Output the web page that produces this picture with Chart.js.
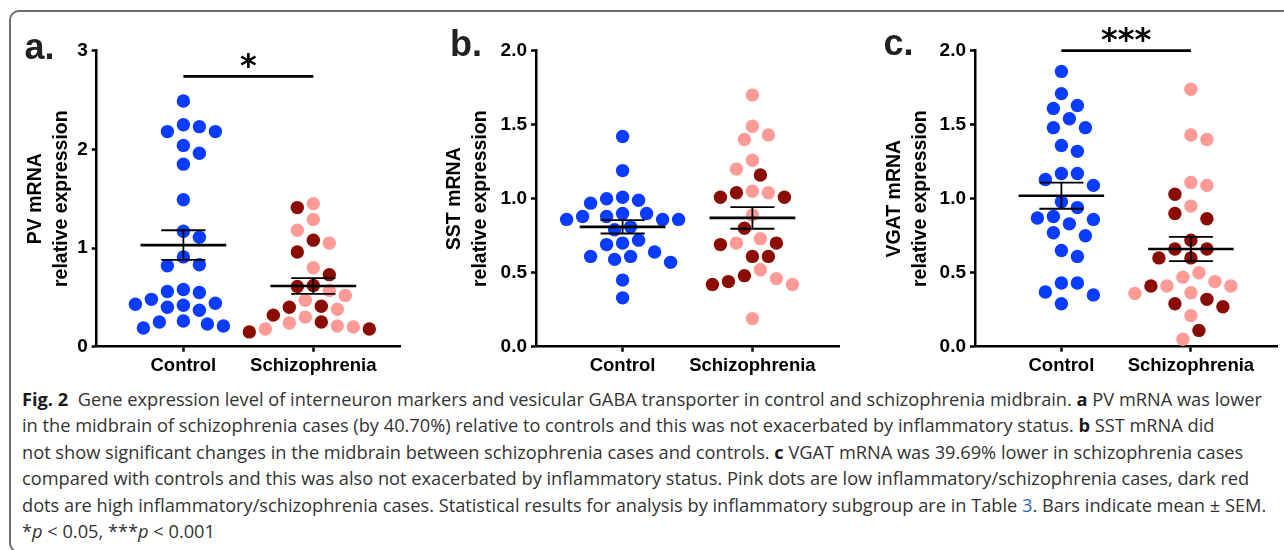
<!DOCTYPE html>
<html>
<head>
<meta charset="utf-8">
<script src="https://cdn.jsdelivr.net/npm/chart.js@4.4.0/dist/chart.umd.min.js"></script>
<style>
html, body { margin: 0; padding: 0; background: #fff; }
body { width: 1284px; height: 550px; position: relative; overflow: hidden; }
#frame { position: absolute; left: 9px; top: 9.5px; width: 1320px; height: 539px; border: 2px solid #6e6e6e; border-radius: 10px; }
canvas { position: absolute; top: 0; }
.tag { position: absolute; font: bold 36px "Liberation Sans", Arial, sans-serif; line-height: 36px; color: #222; }
#caption { position: absolute; left: 22px; top: 385.5px; font-family: "Open Sans", sans-serif; font-size: 17.5px; line-height: 26.6px; color: #333; white-space: nowrap; transform-origin: 0 0; }
#caption .ln { display: table; }
#caption b { color: #1a1a1a; }
.lnk { color: #2b66c0; }
</style>
</head>
<body>
<div id="frame"></div>
<canvas id="pv" width="430" height="380" style="left:0"></canvas>
<canvas id="sst" width="430" height="380" style="left:430px"></canvas>
<canvas id="vgat" width="424" height="380" style="left:860px"></canvas>
<div class="tag" style="left:24.5px;top:29px">a.</div>
<div class="tag" style="left:450px;top:26px">b.</div>
<div class="tag" style="left:883.5px;top:24.5px">c.</div>
<div id="caption">
<div class="ln"><b>Fig. 2</b>&nbsp; Gene expression level of interneuron markers and vesicular GABA transporter in control and schizophrenia midbrain. <b>a</b> PV mRNA was lower</div>
<div class="ln">in the midbrain of schizophrenia cases (by 40.70%) relative to controls and this was not exacerbated by inflammatory status. <b>b</b> SST mRNA did</div>
<div class="ln">not show significant changes in the midbrain between schizophrenia cases and controls. <b>c</b> VGAT mRNA was 39.69% lower in schizophrenia cases</div>
<div class="ln">compared with controls and this was also not exacerbated by inflammatory status. Pink dots are low inflammatory/schizophrenia cases, dark red</div>
<div class="ln">dots are high inflammatory/schizophrenia cases. Statistical results for analysis by inflammatory subgroup are in Table <span class="lnk">3</span>. Bars indicate mean ± SEM.</div>
<div class="ln">*<i>p</i> &lt; 0.05, ***<i>p</i> &lt; 0.001</div>
</div>
<script>
// values
const categories = ["Control", "Schizophrenia"];

const pvControl = [2.49, 2.18, 2.18, 2.23, 2.25, 2.04, 1.96, 1.85, 1.49, 1.17, 1.11, 0.91, 0.83, 0.82,
    0.55, 0.58, 0.56, 0.48, 0.40, 0.43, 0.44, 0.42, 0.37, 0.21, 0.23, 0.26, 0.19, 0.25];
const pvSczLow = [1.45, 1.29, 1.18, 1.05, 0.80, 0.52, 0.57, 0.47, 0.38, 0.30, 0.20, 0.24, 0.21, 0.18];
const pvSczHigh = [1.41, 1.08, 0.96, 0.73, 0.62, 0.61, 0.40, 0.41, 0.32, 0.25, 0.18, 0.15];
const pvMean = [1.03, 0.615];
const pvSem = [0.15, 0.08];

const sstControl = [1.42, 1.19, 0.99, 1.01, 1.00, 0.97, 0.90, 0.90, 0.86, 0.86, 0.86, 0.88, 0.88,
    0.79, 0.81, 0.69, 0.70, 0.72, 0.59, 0.57, 0.61, 0.61, 0.64, 0.45, 0.33];
const sstSczLow = [1.70, 1.49, 1.43, 1.40, 1.26, 1.20, 1.04, 1.05, 0.89, 0.73, 0.70, 0.52, 0.42, 0.46, 0.19];
const sstSczHigh = [1.16, 1.04, 1.01, 1.01, 0.80, 0.70, 0.69, 0.61, 0.61, 0.44, 0.48, 0.42];
const sstMean = [0.81, 0.87];
const sstSem = [0.045, 0.073];

const vgatControl = [1.86, 1.71, 1.63, 1.61, 1.54, 1.48, 1.48, 1.36, 1.32, 1.17, 1.17, 1.13, 1.09, 0.98,
    0.94, 0.88, 0.87, 0.86, 0.83, 0.75, 0.77, 0.65, 0.61, 0.43, 0.43, 0.35, 0.37, 0.29];
const vgatSczLow = [1.74, 1.43, 1.40, 1.11, 1.09, 0.95, 0.50, 0.44, 0.47, 0.41, 0.41, 0.36, 0.365, 0.21, 0.05];
const vgatSczHigh = [1.03, 0.90, 0.865, 0.72, 0.66, 0.66, 0.60, 0.60, 0.41, 0.32, 0.29, 0.27, 0.11];
const vgatMean = [1.02, 0.66];
const vgatSem = [0.088, 0.082];

const yTicksPv = ["0", "1", "2", "3"];
const yTicksSst = ["0.0", "0.5", "1.0", "1.5", "2.0"];
const yTicksVgat = ["0.0", "0.5", "1.0", "1.5", "2.0"];

const yTitles = ["PV mRNA", "SST mRNA", "VGAT mRNA"];
const sigLabels = ["*", "", "***"];
const sigLevels = [2.74, null, 2.0];

const BLUE = "#0a3cff";
const PINK = "#ff9a96";
const DARK = "#8b0d02";
const FONT = "'Liberation Sans', Arial, sans-serif";

Chart.defaults.font.family = FONT;
Chart.defaults.color = "#000";

// simple beeswarm: nearest free slot around the category centre, in pixels
function swarm(values, pxX, pxY) {
    const step = 8 , gap = 15.5;
    const order = values.map((v, i) => i).sort((a, b) => values[b] - values[a]);
    const placed = [];
    const out = new Array(values.length).fill(0);
    order.forEach((i, n) => {
        const py = values[i] * pxY;
        for (let k = 0; k < 40; k++) {
            const cands = k === 0 ? [0] : (n % 2 ? [-k * step, k * step] : [k * step, -k * step]);
            const hit = cands.find(dx => placed.every(q => Math.hypot(q.x - dx, q.y - py) >= gap));
            if (hit !== undefined) {
                placed.push({x: hit, y: py});
                out[i] = hit / pxX;
                return;
            }
        }
    });
    return out;
}

function makePanel(id, idx, control, low, high, mean, sem, ticks, yWidth, padRight, titlePad) {
    const tickVals = ticks.map(Number);
    const overlay = {
        id: "overlay" + idx,
        afterDatasetsDraw(chart) {
            const {ctx, scales: {x, y}} = chart;
            ctx.save();
            ctx.strokeStyle = "#000";
            mean.forEach((m, i) => {
                ctx.lineWidth = 2.7;
                ctx.beginPath();
                ctx.moveTo(x.getPixelForValue(i - 0.33), y.getPixelForValue(m));
                ctx.lineTo(x.getPixelForValue(i + 0.33), y.getPixelForValue(m));
                ctx.stroke();
                ctx.lineWidth = 1.8;
                const top = y.getPixelForValue(m + sem[i]), bot = y.getPixelForValue(m - sem[i]);
                ctx.beginPath();
                ctx.moveTo(x.getPixelForValue(i), top);
                ctx.lineTo(x.getPixelForValue(i), bot);
                [top, bot].forEach(py => {
                    ctx.moveTo(x.getPixelForValue(i - 0.17), py);
                    ctx.lineTo(x.getPixelForValue(i + 0.17), py);
                });
                ctx.stroke();
            });
            if (sigLevels[idx] !== null) {
                const py = y.getPixelForValue(sigLevels[idx]);
                const x0 = x.getPixelForValue(0), x1 = x.getPixelForValue(1);
                ctx.lineWidth = 2.7;
                ctx.beginPath();
                ctx.moveTo(x0, py);
                ctx.lineTo(x1, py);
                ctx.stroke();
                ctx.fillStyle = "#000";
                ctx.font = "bold 32px 'DejaVu Sans', sans-serif";
                ctx.textAlign = "center";
                ctx.textBaseline = "middle";
                ctx.fillText(sigLabels[idx], (x0 + x1) / 2, py - 9);
            }
            ctx.restore();
        }
    };
    const pts = (vals, c) => vals.map(v => ({x: c, y: v}));
    const chart = new Chart(document.getElementById(id), {
        type: "scatter",
        data: {
            datasets: [
                {data: pts(control, 0), backgroundColor: BLUE},
                {data: pts(low, 1), backgroundColor: PINK},
                {data: pts(high, 1), backgroundColor: DARK}
            ]
        },
        options: {
            responsive: false,
            animation: false,
            events: [],
            devicePixelRatio: 1,
            layout: {padding: {top: 50.7, right: padRight, left: 0, bottom: 0}},
            elements: {point: {radius: 6.7, hoverRadius: 6.7, borderWidth: 0}},
            plugins: {legend: {display: false}, tooltip: {enabled: false}},
            scales: {
                x: {
                    type: "linear",
                    min: -0.667,
                    max: 1.667,
                    afterBuildTicks: s => { s.ticks = categories.map((c, i) => ({value: i})); },
                    afterFit: s => { s.height = 33.3; },
                    ticks: {
                        callback: v => categories[v],
                        font: {size: 18.5, weight: "bold"},
                        color: "#000",
                        padding: 3,
                        autoSkip: false,
                        maxRotation: 0
                    },
                    grid: {drawOnChartArea: false, tickLength: 5, tickWidth: 2.5, color: "#000"},
                    border: {color: "#000", width: 2.5}
                },
                y: {
                    min: tickVals[0],
                    max: tickVals[tickVals.length - 1],
                    afterBuildTicks: s => { s.ticks = tickVals.map(v => ({value: v})); },
                    afterFit: s => { s.width = yWidth; },
                    ticks: {
                        callback: (v, i) => ticks[i],
                        font: {size: 19, weight: "bold"},
                        color: "#000",
                        padding: 4
                    },
                    grid: {drawOnChartArea: false, tickLength: 5, tickWidth: 2.5, color: "#000"},
                    border: {color: "#000", width: 2.5},
                    title: {
                        display: true,
                        text: [yTitles[idx], "relative expression"],
                        font: {size: 19.5, weight: "bold", lineHeight: "26px"},
                        color: "#000",
                        padding: {top: titlePad, bottom: 0}
                    }
                }
            }
        },
        plugins: [overlay]
    });

    // spread the dots with the chart's own scales
    const pxX = Math.abs(chart.scales.x.getPixelForValue(1) - chart.scales.x.getPixelForValue(0));
    const pxY = Math.abs(chart.scales.y.getPixelForValue(1) - chart.scales.y.getPixelForValue(0));
    const jc = swarm(control, pxX, pxY);
    const js = swarm(low.concat(high), pxX, pxY);
    chart.data.datasets[0].data = control.map((v, i) => ({x: jc[i], y: v}));
    chart.data.datasets[1].data = low.map((v, i) => ({x: 1 + js[i], y: v}));
    chart.data.datasets[2].data = high.map((v, i) => ({x: 1 + js[low.length + i], y: v}));
    chart.update("none");
    return chart;
}

makePanel("pv", 0, pvControl, pvSczLow, pvSczHigh, pvMean, pvSem, yTicksPv, 96.7, 30, 22.5);
makePanel("sst", 1, sstControl, sstSczLow, sstSczHigh, sstMean, sstSem, yTicksSst, 106, 21, 11.5);
makePanel("vgat", 2, vgatControl, vgatSczLow, vgatSczHigh, vgatMean, vgatSem, yTicksVgat, 115, 6, 21.5);

// fit the caption width to the figure
const cap = document.getElementById("caption");
const firstLine = cap.querySelector(".ln");
const scale = 1240 / firstLine.getBoundingClientRect().width;
cap.style.transform = `scaleX(${scale})`;
</script>
</body>
</html>
